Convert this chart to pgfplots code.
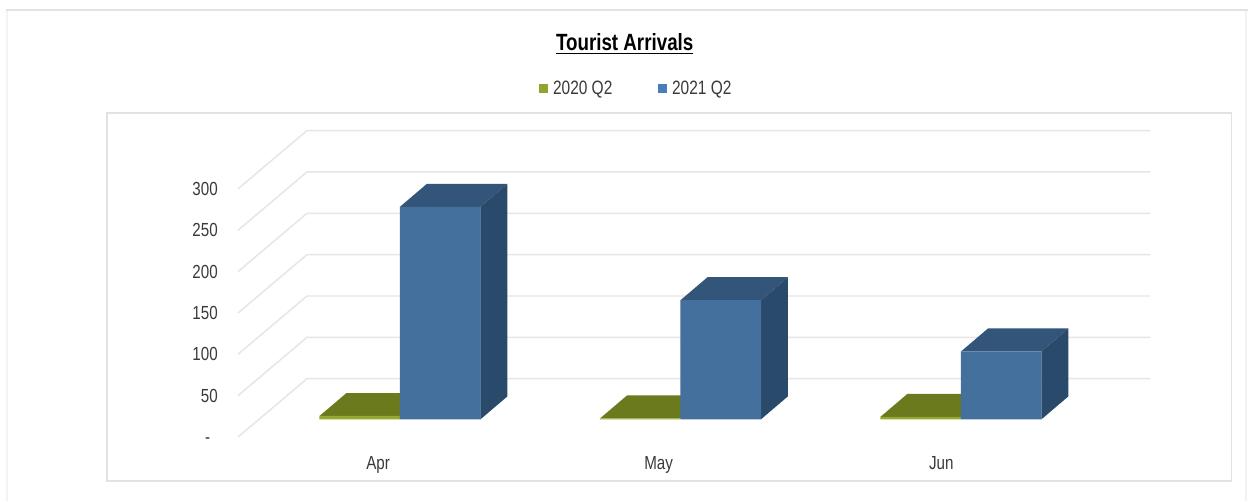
\documentclass[border=0pt]{standalone}
\usepackage{pgfplots}
\usepackage{fontspec}
\setmainfont[FakeStretch=0.8]{Liberation Sans}
\pgfplotsset{compat=1.18}
\definecolor{gridc}{HTML}{E6E6E6}
\definecolor{framec}{HTML}{E2E2E2}
\definecolor{framel}{HTML}{F3F3F3}
\definecolor{txt}{HTML}{3A3A3A}
\definecolor{bfront}{HTML}{44709D}
\definecolor{btop}{HTML}{335579}
\definecolor{bside}{HTML}{2A4A6B}
\definecolor{gfront}{HTML}{93A92F}
\definecolor{gtop}{HTML}{6A7A1C}
\definecolor{lgreen}{HTML}{8FA62E}
\definecolor{lblue}{HTML}{4A7EBB}
\pgfplotstableread{
x v20 v21
0 4 257
1 1 144
2 3 82
}\arrivals
\begin{document}
\begin{tikzpicture}[x=1pt,y=1pt]
\path[use as bounding box,fill=white] (0,0) rectangle (936pt,375.75pt);
% outer and inner frames
\draw[framel,line width=1.4pt] (5pt,0pt) -- (5pt,368.5pt);
\draw[framel,line width=1.0pt] (934.5pt,0pt) -- (934.5pt,368.5pt);
\draw[framec,line width=1.3pt] (4.5pt,368.5pt) -- (936pt,368.5pt);
\draw[framec,line width=1.1pt] (80.25pt,15pt) rectangle (923.7pt,291pt);
% Axis A: value axis and walls
\begin{axis}[
  at={(178.5pt,48pt)},anchor=south west,
  scale only axis,width=684pt,height=230.25pt,
  xmin=238,xmax=1150,ymin=0,ymax=371.2,
  clip=false,
  axis line style={draw=none},
  tick style={draw=none},
  xtick=\empty,
  ytick={0,50,100,150,200,250,300},
  yticklabels={\vphantom{0}-\rule{5.6pt}{0pt},50,100,150,200,250,300},
  yticklabel style={font=\fontsize{14.2}{16}\selectfont,text=txt,anchor=east,xshift=-15pt,inner sep=0pt},
]
\addplot[gridc,line width=1.1pt] coordinates {(238,0) (307,70.5) (1150,70.5)};
\addplot[gridc,line width=1.1pt] coordinates {(238,50) (307,120.5) (1150,120.5)};
\addplot[gridc,line width=1.1pt] coordinates {(238,100) (307,170.5) (1150,170.5)};
\addplot[gridc,line width=1.1pt] coordinates {(238,150) (307,220.5) (1150,220.5)};
\addplot[gridc,line width=1.1pt] coordinates {(238,200) (307,270.5) (1150,270.5)};
\addplot[gridc,line width=1.1pt] coordinates {(238,250) (307,320.5) (1150,320.5)};
\addplot[gridc,line width=1.1pt] coordinates {(238,300) (307,370.5) (1150,370.5)};
\end{axis}
% Axis B: categories and bars
\begin{axis}[
  at={(178.5pt,48pt)},anchor=south west,
  scale only axis,width=684pt,height=230.25pt,
  xmin=-0.5775,xmax=2.674,ymin=-21.4,ymax=349.8,
  clip=false,
  axis line style={draw=none},
  tick style={draw=none},
  ytick=\empty,
  xtick={-0.078,0.922,1.93},
  xticklabels={Apr,May,Jun},
  xticklabel style={font=\fontsize{14.2}{16}\selectfont,text=txt,anchor=center,text height=10pt,text depth=3pt,yshift=-21pt},
  title={\underline{\textbf{Tourist Arrivals}}},
  title style={at={(0.424,1.2544)},anchor=center,font=\fontsize{17.6}{20}\selectfont,text=black,inner sep=0pt},
  legend columns=2,
  legend cell align=left,
  legend style={at={(0.4372,1.134)},anchor=center,draw=none,fill=none,
    font=\fontsize{14.5}{16}\selectfont,text=txt,
    /tikz/every even column/.append style={column sep=32.5pt}},
  legend image code/.code={\fill[#1] (0pt,-3.4pt) rectangle (6.8pt,3.4pt);},
]
% 2020 Q2
\addplot[fill=gtop,draw=none,forget plot] coordinates {(-0.287,4) (-0.1907,31.8) (0.0963,31.8) (0,4)} --cycle;
\addplot[fill=gtop,draw=none,forget plot] coordinates {(0.713,1) (0.8093,28.8) (1.0963,28.8) (1,1)} --cycle;
\addplot[fill=gtop,draw=none,forget plot] coordinates {(1.713,3) (1.8093,30.8) (2.0963,30.8) (2,3)} --cycle;
\addplot[ybar,bar width=60.4pt,bar shift=-30.2pt,fill=gfront,draw=none,color=gfront,
  legend image code/.code={\fill[lgreen] (0pt,-3.4pt) rectangle (6.8pt,3.4pt);\path (8.3pt,0pt);}]
  table[x=x,y=v20] {\arrivals};
\addlegendentry{2020 Q2}
% 2021 Q2: top and side faces
\addplot[fill=btop,draw=none,forget plot] coordinates {(0,257) (0.0963,284.8) (0.3833,284.8) (0.287,257)} --cycle;
\addplot[fill=bside,draw=none,forget plot] coordinates {(0.287,0) (0.3833,27.8) (0.3833,284.8) (0.287,257)} --cycle;
\addplot[fill=btop,draw=none,forget plot] coordinates {(1,144) (1.0963,171.8) (1.3833,171.8) (1.287,144)} --cycle;
\addplot[fill=bside,draw=none,forget plot] coordinates {(1.287,0) (1.3833,27.8) (1.3833,171.8) (1.287,144)} --cycle;
\addplot[fill=btop,draw=none,forget plot] coordinates {(2,82) (2.0963,109.8) (2.3833,109.8) (2.287,82)} --cycle;
\addplot[fill=bside,draw=none,forget plot] coordinates {(2.287,0) (2.3833,27.8) (2.3833,109.8) (2.287,82)} --cycle;
\addplot[ybar,bar width=60.4pt,bar shift=30.2pt,fill=bfront,draw=none,color=bfront,
  legend image code/.code={\fill[lblue] (0pt,-3.4pt) rectangle (6.8pt,3.4pt);\path (8.3pt,0pt);}]
  table[x=x,y=v21] {\arrivals};
\addlegendentry{2021 Q2}
\end{axis}
\end{tikzpicture}
\end{document}
